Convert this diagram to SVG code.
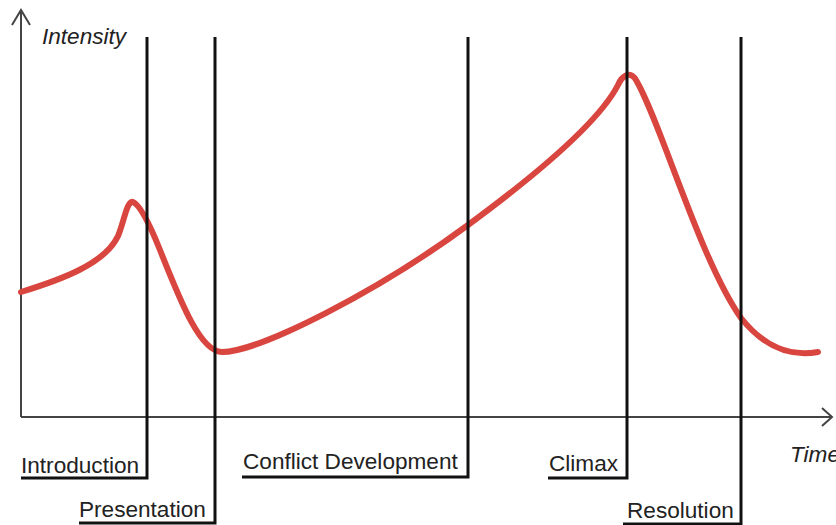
<svg xmlns="http://www.w3.org/2000/svg" width="836" height="525" viewBox="0 0 836 525">
  <style>
    .axis { stroke: #444; stroke-width: 2; fill: none; }
    .marker { stroke: #111; stroke-width: 3; fill: none; }
    .curve { stroke: #d9463f; stroke-width: 6; fill: none; stroke-linecap: round; stroke-linejoin: round; }
    .label { font-family: "Liberation Sans", Arial, sans-serif; font-size: 22.6px; fill: #222; }
    .axislabel { font-family: "Liberation Sans", Arial, sans-serif; font-size: 22.6px; font-style: italic; fill: #222; }
  </style>
  <rect width="836" height="525" fill="#ffffff"/>

  <!-- axes -->
  <g id="axes">
    <path class="axis" d="M21,417 V10 M12,25 L21,10 L30,25"/>
    <path class="axis" d="M21,417 H832 M822,408 L832,417 L822,426"/>
    <text class="axislabel" x="42" y="44">Intensity</text>
    <text class="axislabel" x="790" y="462">Time</text>
  </g>

  <!-- intensity curve -->
  <g id="curve">
    <path class="curve" d="M21,292 C60,280 105,264 118,236 C124,222 127,200 133,202 C140,205 150,225 160,250 C180,300 200,352 222,352 C260,352 380,290 468,225 C540,172 600,120 618,85 C622,76 630,70 636,80 C660,120 700,260 741,318 C765,348 790,357 818,352"/>
  </g>

  <!-- phase markers -->
  <g id="connectors">
    <path class="marker" d="M147,37 V478 H21"/>
    <path class="marker" d="M215,37 V523 H79"/>
    <path class="marker" d="M468,37 V477 H242"/>
    <path class="marker" d="M627,37 V478 H548"/>
    <path class="marker" d="M741,37 V525 M741,524 H623"/>
  </g>

  <g id="introduction"><text class="label" x="21" y="473">Introduction</text></g>
  <g id="presentation"><text class="label" x="79" y="517">Presentation</text></g>
  <g id="conflict-development"><text class="label" x="243" y="469">Conflict Development</text></g>
  <g id="climax"><text class="label" x="549" y="471">Climax</text></g>
  <g id="resolution"><text class="label" x="627" y="518">Resolution</text></g>
</svg>
